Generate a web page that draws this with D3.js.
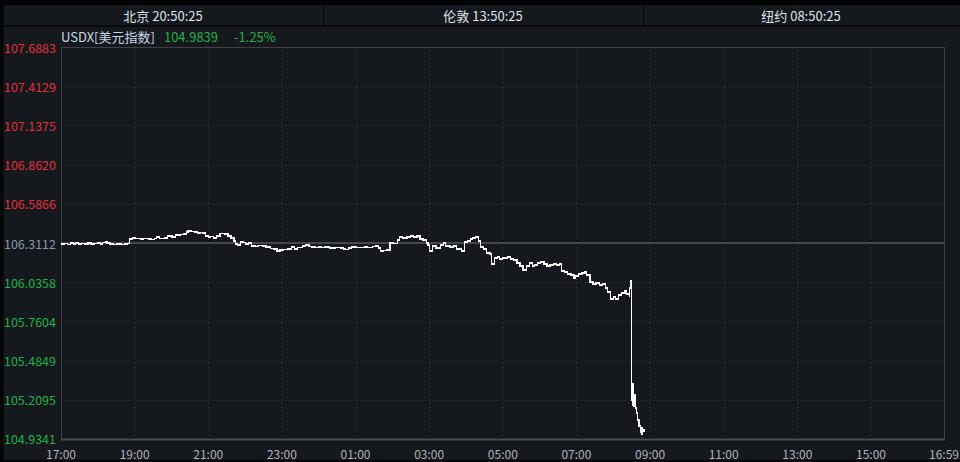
<!DOCTYPE html>
<html><head><meta charset="utf-8">
<script src="https://cdn.jsdelivr.net/npm/d3@7/dist/d3.min.js"></script>
<style>
html,body{margin:0;padding:0;background:#15181d;overflow:hidden;}
svg{display:block;}
text{font-family:"Noto Sans CJK SC","Noto Sans",sans-serif;}
</style></head>
<body>
<svg id="c" width="960" height="462"></svg>
<script>
// ---- data ----
const headerClocks = ["北京 20:50:25", "伦敦 13:50:25", "纽约 08:50:25"];
const symbolName = "USDX[美元指数]";
const lastPrice = "104.9839";
const changePct = "-1.25%";
const prevClose = 106.3112;
const yTickLabels = ["107.6883","107.4129","107.1375","106.8620","106.5866","106.3112","106.0358","105.7604","105.4849","105.2095","104.9341"];
const xTickLabels = ["17:00","19:00","21:00","23:00","01:00","03:00","05:00","07:00","09:00","11:00","13:00","15:00","16:59"];
const times = ["17:00","17:05","17:10","17:15","17:20","17:24","17:29","17:34","17:39","17:44","17:49","17:54","17:59","18:04","18:08","18:12","18:15","18:20","18:25","18:30","18:35","18:39","18:44","18:49","18:52","18:56","19:02","19:09","19:15","19:22","19:28","19:33","19:36","19:41","19:49","19:54","20:01","20:07","20:14","20:19","20:24","20:27","20:32","20:37","20:42","20:47","20:51","20:55","21:00","21:04","21:09","21:14","21:19","21:27","21:32","21:37","21:42","21:45","21:48","21:52","21:57","22:01","22:06","22:11","22:16","22:21","22:28","22:34","22:41","22:47","22:52","22:57","23:03","23:10","23:15","23:20","23:25","23:29","23:34","23:39","23:44","23:49","23:54","23:59","00:04","00:10","00:18","00:27","00:35","00:40","00:44","00:49","00:54","01:01","01:07","01:14","01:20","01:27","01:33","01:37","01:41","01:46","01:51","01:56","02:01","02:08","02:12","02:17","02:24","02:29","02:34","02:40","02:45","02:50","02:55","02:58","03:01","03:06","03:11","03:18","03:23","03:27","03:34","03:39","03:44","03:49","03:53","03:57","04:02","04:07","04:11","04:16","04:20","04:24","04:29","04:34","04:39","04:42","04:46","04:51","04:55","05:00","05:07","05:12","05:18","05:23","05:28","05:33","05:38","05:43","05:48","05:52","05:57","06:02","06:07","06:12","06:17","06:22","06:27","06:32","06:36","06:41","06:46","06:51","06:56","06:59","07:04","07:09","07:14","07:17","07:22","07:27","07:32","07:37","07:42","07:47","07:51","07:55","08:00","08:04","08:09","08:14","08:19","08:22","08:26","08:27","08:29","08:30","08:31","08:32","08:33","08:34","08:36","08:38","08:40","08:42","08:44","08:45","08:47","08:48","08:50"];
const prices = [106.304,106.308,106.301,106.311,106.304,106.311,106.304,106.308,106.304,106.311,106.304,106.308,106.311,106.304,106.315,106.322,106.311,106.304,106.301,106.304,106.304,106.301,106.304,106.308,106.339,106.346,106.343,106.339,106.343,106.339,106.336,106.343,106.353,106.343,106.346,106.360,106.353,106.367,106.371,106.374,106.388,106.395,106.392,106.388,106.381,106.385,106.381,106.360,106.353,106.357,106.346,106.360,106.378,106.374,106.360,106.346,106.325,106.304,106.297,106.318,106.315,106.304,106.311,106.290,106.287,106.294,106.290,106.283,106.273,106.269,106.255,106.262,106.266,106.269,106.283,106.269,106.280,106.280,106.290,106.297,106.287,106.283,106.280,106.283,106.280,106.283,106.276,106.280,106.276,106.269,106.266,106.276,106.283,106.280,106.280,106.283,106.280,106.287,106.290,106.276,106.255,106.259,106.262,106.311,106.308,106.332,106.353,106.346,106.353,106.360,106.353,106.360,106.339,106.332,106.311,106.297,106.255,106.290,106.276,106.297,106.311,106.290,106.283,106.290,106.269,106.269,106.255,106.318,106.325,106.339,106.346,106.353,106.325,106.283,106.269,106.241,106.234,106.164,106.206,106.213,106.199,106.206,106.213,106.199,106.192,106.171,106.150,106.122,106.150,106.171,106.150,106.157,106.171,106.178,106.164,106.150,106.157,106.164,106.157,106.164,106.115,106.108,106.094,106.087,106.059,106.080,106.094,106.101,106.108,106.087,106.037,106.023,106.030,106.016,106.023,105.995,105.967,105.918,105.932,105.918,105.946,105.960,105.974,105.953,105.939,105.995,106.044,105.208,105.173,105.321,105.166,105.243,105.152,105.117,105.068,105.025,104.983,105.011,104.969,104.997,104.9839];

// ---- helpers ----
const toMin = s => { const [h,m] = s.split(":").map(Number); return ((h*60+m) - 1020 + 1440) % 1440; };
const series = times.map((t,i) => ({m: toMin(t), p: prices[i]}));

const svg = d3.select("#c");
const L = 61, R = 944, T = 47, B = 439;
const yMin = +yTickLabels[yTickLabels.length-1], yMax = +yTickLabels[0];
const x = d3.scaleLinear().domain([0, 1439]).range([L, R]);
const y = d3.scaleLinear().domain([yMin, yMax]).range([B, T]);

// background panels
svg.append("rect").attr("x",0).attr("y",0).attr("width",960).attr("height",462).attr("fill","#15181d");
svg.append("rect").attr("x",0).attr("y",0).attr("width",960).attr("height",5).attr("fill","#050505");
svg.append("rect").attr("x",0).attr("y",25).attr("width",960).attr("height",1.5).attr("fill","#050505");
svg.append("rect").attr("x",0).attr("y",0).attr("width",3.5).attr("height",462).attr("fill","#050505");
svg.append("rect").attr("x",0).attr("y",460).attr("width",960).attr("height",2).attr("fill","#050505");
[323, 643].forEach(px => svg.append("rect").attr("x",px).attr("y",5).attr("width",1).attr("height",20).attr("fill","#050505"));

// header clocks
const cellCenters = [163, 483, 801];
svg.selectAll("text.clk").data(headerClocks).join("text").attr("class","clk")
  .attr("x",(d,i)=>cellCenters[i]).attr("y",15).attr("text-anchor","middle").attr("dominant-baseline","central")
  .attr("font-size",13).attr("fill","#dde3ea").text(d=>d);

// symbol row
const sym = svg.append("text").attr("x",61).attr("y",35.5).attr("dominant-baseline","central").attr("font-size",13);
sym.append("tspan").attr("fill","#c9d8ea").text(symbolName);
sym.append("tspan").attr("fill","#1fb24a").attr("dx",9).text(lastPrice);
sym.append("tspan").attr("fill","#1fb24a").attr("dx",16).text(changePct);

// grid
const g = svg.append("g");
const yVals = yTickLabels.map(Number);
yVals.forEach((v,i) => {
  if (i===0 || i===yVals.length-1 || v===prevClose) return;
  g.append("line").attr("x1",L).attr("x2",R).attr("y1",Math.round(y(v))+0.5).attr("y2",Math.round(y(v))+0.5)
    .attr("stroke","#3b3f45").attr("stroke-dasharray","1,3");
});
xTickLabels.forEach((t,i) => {
  if (i===0 || i===xTickLabels.length-1) return;
  const px = Math.round(x(toMin(t)))+0.5;
  g.append("line").attr("x1",px).attr("x2",px).attr("y1",T).attr("y2",B)
    .attr("stroke","#3b3f45").attr("stroke-dasharray","1,3");
});

// frame
svg.append("rect").attr("x",L+0.5).attr("y",T+0.5).attr("width",R-L).attr("height",B-T)
  .attr("fill","none").attr("stroke","#3d4045");
svg.append("line").attr("x1",L).attr("x2",R+1).attr("y1",B+0.5).attr("y2",B+0.5).attr("stroke","#4a4d53").attr("stroke-width",2);

// previous close line
svg.append("line").attr("x1",L).attr("x2",R).attr("y1",y(prevClose)).attr("y2",y(prevClose))
  .attr("stroke","#44474c").attr("stroke-width",2);

// y labels
svg.selectAll("text.yl").data(yTickLabels).join("text").attr("class","yl")
  .attr("x",56).attr("y",(d,i)=> y(+d) - (i===yTickLabels.length-1 ? 1 : 0)).attr("text-anchor","end").attr("dominant-baseline","central")
  .attr("font-size",12.5)
  .attr("fill",d=> +d>prevClose ? "#e3303b" : (+d<prevClose ? "#1fb24a" : "#8797aa"))
  .text(d=>d);

// x labels
svg.selectAll("text.xl").data(xTickLabels).join("text").attr("class","xl")
  .attr("x",d=>x(toMin(d))).attr("y",453).attr("text-anchor","middle").attr("dominant-baseline","central")
  .attr("font-size",12).attr("fill","#aeb3bb").text(d=>d);

// price line
const line = d3.line().x(d=>x(d.m)).y(d=>y(d.p)).curve(d3.curveStepAfter);
svg.append("path").datum(series).attr("d",line).attr("fill","none")
  .attr("stroke","#ffffff").attr("stroke-width",1.2).attr("shape-rendering","crispEdges");
</script>
</body></html>
